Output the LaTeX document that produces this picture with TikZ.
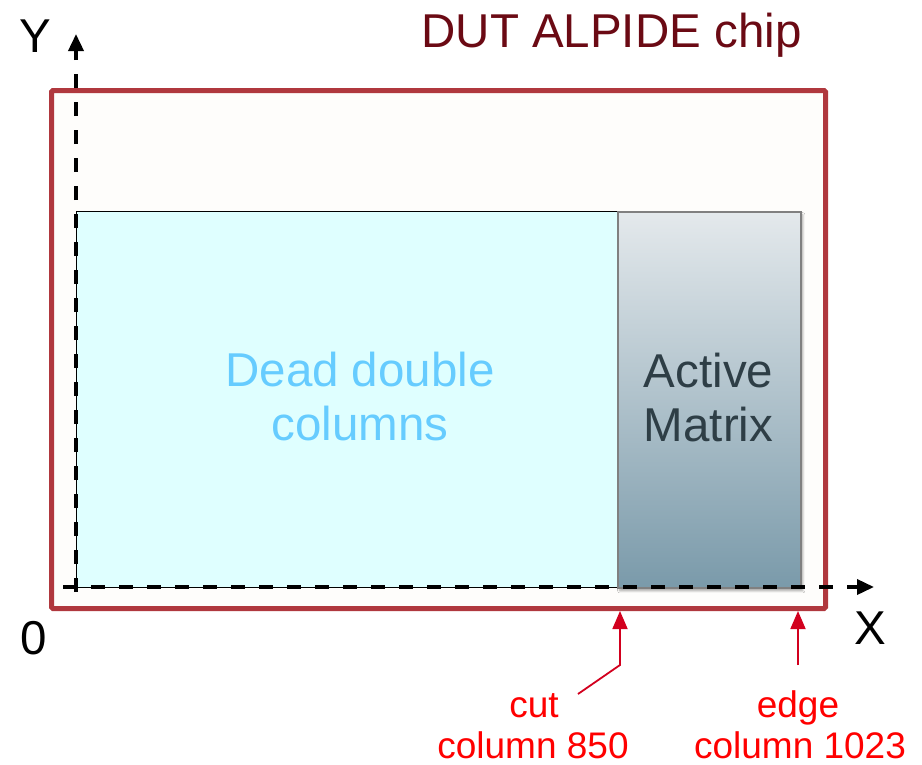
\documentclass[tikz,border=0pt]{standalone}
\usepackage{fontspec}
\setmainfont{Liberation Sans}
\usetikzlibrary{arrows.meta,shadows.blur}
\definecolor{chipred}{RGB}{176,56,62}
\definecolor{titlered}{RGB}{107,10,20}
\definecolor{deadfill}{RGB}{223,255,255}
\definecolor{deadtext}{RGB}{102,204,255}
\definecolor{acttop}{RGB}{228,233,236}
\definecolor{actbot}{RGB}{122,154,170}
\definecolor{acttext}{RGB}{46,62,70}
\definecolor{labred}{RGB}{255,0,0}
\definecolor{arrred}{RGB}{210,0,30}
\tikzset{
  bigtxt/.style={font=\fontsize{47.5}{54}\selectfont, inner sep=0pt},
  labtxt/.style={font=\fontsize{37}{43}\selectfont, inner sep=0pt, text=labred},
  axis/.style={line width=3.6pt, dash pattern=on 14pt off 14pt, -{Triangle[width=15pt,length=17pt]}},
  redarrow/.style={draw=arrred, line width=1.8pt, -{Triangle[width=15pt,length=18pt]}},
}
\begin{document}
\begin{tikzpicture}[x=1pt,y=-1pt]
\useasboundingbox (0,0) rectangle (922,764);
% chip
\node[draw=chipred, line width=5pt, fill={rgb,255:red,254;green,253;blue,251}, minimum width=774pt, minimum height=518pt, anchor=north west, inner sep=0pt, rounded corners=1.5pt] (chip) at (49,88) {};
\node[bigtxt, text=titlered, anchor=base] (title) at (611.5,47) {DUT ALPIDE chip};
% dead columns
\node[draw=black, line width=1.4pt, fill=deadfill, minimum width=541pt, minimum height=376pt, anchor=north west, inner sep=0pt] (dead) at (76,211) {};
\node[bigtxt, text=deadtext, align=center] (deadlbl) at (360,397) {Dead double\\columns};
% active matrix
\node[draw={rgb,255:red,128;green,128;blue,128}, line width=1.6pt, top color=acttop, bottom color=actbot, minimum width=183pt, minimum height=376pt, anchor=north west, inner sep=0pt, blur shadow={shadow xshift=2pt, shadow yshift=-3pt, shadow blur steps=6, shadow opacity=35}] (act) at (617,211) {};
\node[bigtxt, text=acttext, align=center] (actlbl) at (708.5,398) {Active\\Matrix};
% axes
\coordinate (o1) at (76,592);
\coordinate (ytip) at (76,34);
\coordinate (o2) at (63,587);
\coordinate (xtip) at (874,587);
\draw[axis] (o1) -- (ytip);
\draw[axis] (o2) -- (xtip);
\node[bigtxt, anchor=base] (ylbl) at (35,52) {Y};
\node[bigtxt, anchor=base] (xlbl) at (870,644) {X};
\node[bigtxt, anchor=base] (zero) at (34,654) {0};
% labels
\node[labtxt, anchor=base] (cut) at (534,717) {cut};
\node[labtxt, anchor=base] (cutcol) at (533,758) {column 850};
\node[labtxt, anchor=base] (edge) at (798,717) {edge};
\node[labtxt, anchor=base] (edgecol) at (800,758) {column 1023};
\coordinate (cutstart) at (578,694);
\coordinate (cutbend) at (620,665);
\coordinate (cuttip) at (620,611);
\coordinate (edgestart) at (798,665);
\coordinate (edgetip) at (798,611);
\draw[redarrow] (cutstart) -- (cutbend) -- (cuttip);
\draw[redarrow] (edgestart) -- (edgetip);
\end{tikzpicture}
\end{document}
